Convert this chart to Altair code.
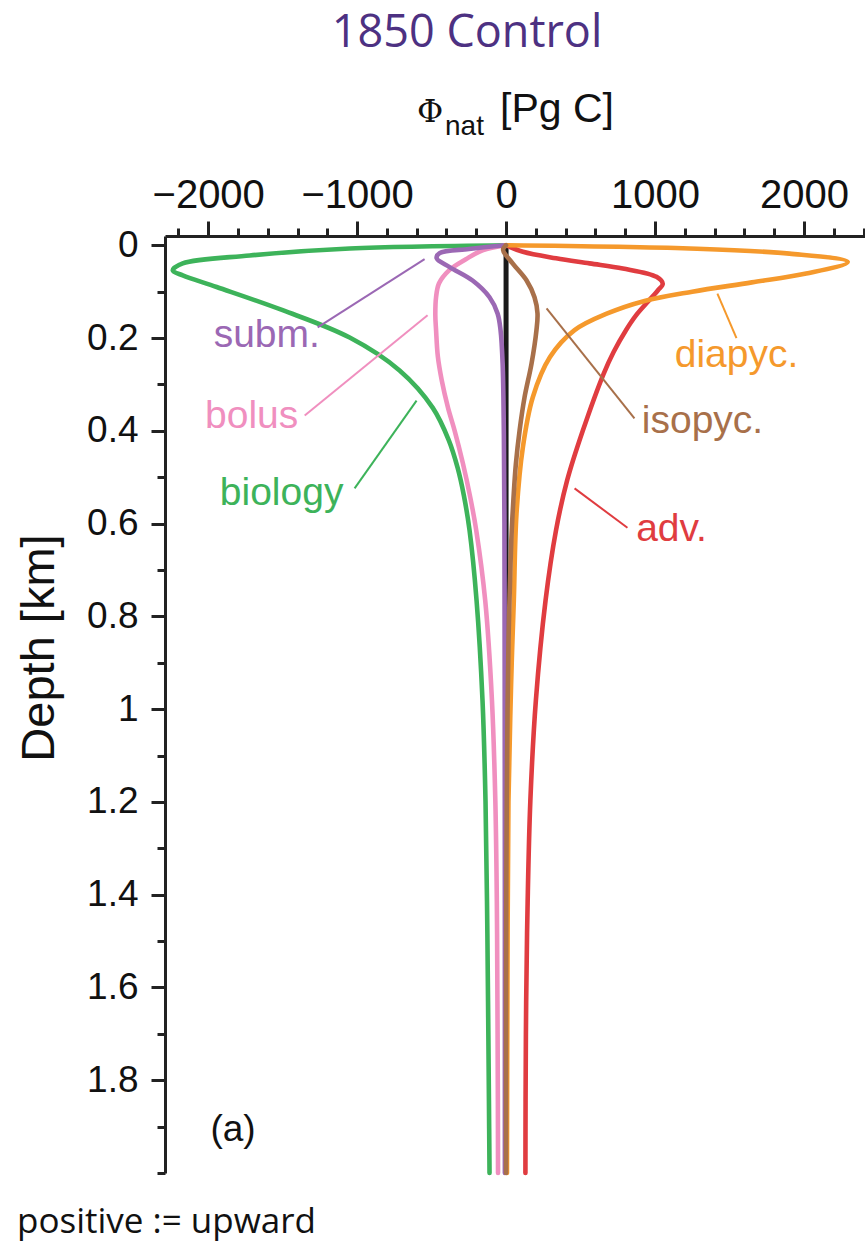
import altair as alt
import pandas as pd

# ---------------- data ----------------
series_names = ["biology", "bolus", "subm.", "adv.", "diapyc.", "isopyc."]
series_colors = ["#3db35a", "#f08fbf", "#9b68b4", "#e03c40", "#f5992c", "#a8704a"]

biology_depth = [0, 0.007, 0.022, 0.039, 0.054, 0.065, 0.09, 0.14, 0.199, 0.27, 0.35, 0.42,
                 0.48, 0.54, 0.615, 0.766, 0.982, 1.198, 1.414, 1.63, 1.845, 2.0]
biology_value = [0, -1050, -1721, -2171, -2238, -2171, -1943, -1500, -1050, -715, -493, -385,
                 -325, -283, -245, -198, -158, -138, -128, -121, -115, -111]

bolus_depth = [0, 0.011, 0.03, 0.054, 0.082, 0.112, 0.15, 0.183, 0.24, 0.291, 0.35, 0.4,
               0.47, 0.544, 0.615, 0.766, 0.98, 1.198, 1.414, 1.63, 1.845, 2.0]
bolus_value = [0, -158, -270, -383, -450, -470, -475, -470, -458, -432, -390, -345,
               -290, -240, -200, -140, -95, -72, -62, -58, -55, -54]

subm_depth = [0, 0.008, 0.017, 0.028, 0.047, 0.076, 0.112, 0.147, 0.183, 0.255, 0.4, 0.6,
              1.0, 1.5, 2.0]
subm_value = [0, -250, -446, -466, -379, -225, -111, -57, -37, -23, -15, -11, -9, -8, -8]

adv_depth = [0, 0.014, 0.028, 0.039, 0.05, 0.068, 0.083, 0.097, 0.119, 0.15, 0.183, 0.23,
             0.277, 0.4, 0.507, 0.615, 0.766, 0.982, 1.198, 1.414, 1.63, 1.845, 2.0]
adv_value = [0, 113, 336, 560, 784, 1010, 1052, 1020, 960, 875, 805, 722,
             655, 515, 410, 335, 265, 200, 163, 145, 135, 131, 130]

diapyc_depth = [0, 0.007, 0.018, 0.036, 0.061, 0.08, 0.1, 0.12, 0.147, 0.183, 0.241, 0.327,
                0.435, 0.579, 0.766, 0.9, 1.02, 1.2, 1.6, 2.0]
diapyc_value = [0, 1232, 1903, 2294, 2015, 1650, 1250, 930, 680, 460, 295, 180,
                113, 70, 52, 38, 28, 16, 9, 6]

isopyc_depth = [0, 0.01, 0.039, 0.076, 0.112, 0.147, 0.183, 0.255, 0.328, 0.399, 0.471, 0.544,
                0.615, 0.686, 0.83, 1.0, 1.3, 1.6, 2.0]
isopyc_value = [0, -20, 44, 138, 191, 211, 204, 171, 124, 91, 66, 50,
                38, 30, 18, 10, 3, 0, 0]

zero_depth = [0, 2.0]
zero_value = [0, 0]

# annotation labels: text, value, depth, leader start/end (value, depth)
label_text = ["subm.", "bolus", "biology", "diapyc.", "isopyc.", "adv."]
label_color = ["#9b68b4", "#f08fbf", "#3db35a", "#f5992c", "#a8704a", "#e03c40"]
label_x = [-1607, -1708, -1507, 1547, 1319, 1111]
label_y = [0.194, 0.367, 0.535, 0.237, 0.378, 0.611]
lead_x1 = [-1265, -1352, -1017, 1547, 862, 815]
lead_y1 = [0.177, 0.367, 0.524, 0.200, 0.373, 0.609]
lead_x2 = [-547, -527, -601, 1419, 272, 460]
lead_y2 = [0.030, 0.151, 0.335, 0.104, 0.136, 0.524]

x_major = [-2000, -1000, 0, 1000, 2000]
x_minor = [-2200, -1800, -1600, -1400, -1200, -800, -600, -400, -200,
           200, 400, 600, 800, 1200, 1400, 1600, 1800, 2200, 2400]
y_major = [0, 0.2, 0.4, 0.6, 0.8, 1.0, 1.2, 1.4, 1.6, 1.8]
y_minor = [0.1, 0.3, 0.5, 0.7, 0.9, 1.1, 1.3, 1.5, 1.7, 1.9, 2.0]

# ---------------- tables ----------------
series_data = {
    "biology": (biology_depth, biology_value),
    "bolus": (bolus_depth, bolus_value),
    "subm.": (subm_depth, subm_value),
    "adv.": (adv_depth, adv_value),
    "diapyc.": (diapyc_depth, diapyc_value),
    "isopyc.": (isopyc_depth, isopyc_value),
}
rows = []
for name, (ds, vs) in series_data.items():
    for i, (d, v) in enumerate(zip(ds, vs)):
        rows.append({"series": name, "idx": i, "depth": d, "value": v})
df = pd.DataFrame(rows)
zero_df = pd.DataFrame({"depth": zero_depth, "value": zero_value})
lab_df = pd.DataFrame({"t": label_text, "c": label_color, "x": label_x, "y": label_y,
                       "x1": lead_x1, "y1": lead_y1, "x2": lead_x2, "y2": lead_y2})

XS = alt.Scale(domain=[-2290, 2410], nice=False, zero=False)
YS = alt.Scale(domain=[-0.02, 2.0], nice=False, zero=False, reverse=True)

SANS = "Liberation Sans"
AX = "#222222"
ax_x = alt.Axis(orient="top", values=x_major, title=None, grid=False, tickSize=15, tickWidth=3,
                tickColor=AX, domainWidth=3, domainColor=AX, labelFont=SANS,
                labelFontSize=40, labelColor="#111111", labelPadding=6, labelFlush=False,
                labelOverlap=False, format="d")
ax_xm = alt.Axis(orient="top", values=x_minor, title=None, grid=False, labels=False,
                 domain=False, tickSize=8, tickWidth=3, tickColor=AX)
ax_y = alt.Axis(orient="left", values=y_major, title=None, grid=False, tickSize=14, tickWidth=3,
                tickColor=AX, domainWidth=3, domainColor=AX, labelFont=SANS,
                labelFontSize=37, labelColor="#111111", labelPadding=13, labelFlush=False,
                labelOverlap=False, format="~g")
ax_ym = alt.Axis(orient="left", values=y_minor, title=None, grid=False, labels=False,
                 domain=False, tickSize=8, tickWidth=3, tickColor=AX)

layers = []
# black zero line (carries the minor-tick axes)
layers.append(
    alt.Chart(zero_df).mark_line(color="#1a1a1a", strokeWidth=5).encode(
        x=alt.X("value:Q", scale=XS, axis=ax_xm),
        y=alt.Y("depth:Q", scale=YS, axis=ax_ym),
        order=alt.Order("depth:Q"),
    )
)
for k, (name, col) in enumerate(zip(series_names, series_colors)):
    layers.append(
        alt.Chart(df).transform_filter(alt.datum.series == name).mark_line(
            color=col, strokeWidth=4.6, interpolate="catmull-rom", strokeCap="round",
            strokeJoin="round").encode(
            x=alt.X("value:Q", scale=XS, axis=ax_x if k == 0 else None),
            y=alt.Y("depth:Q", scale=YS, axis=ax_y if k == 0 else None),
            order=alt.Order("idx:Q"),
        )
    )

leaders = alt.Chart(lab_df).mark_rule(strokeWidth=2).encode(
    x=alt.X("x1:Q", scale=XS, axis=None), y=alt.Y("y1:Q", scale=YS, axis=None),
    x2="x2:Q", y2="y2:Q", color=alt.Color("c:N", scale=None))
labels = alt.Chart(lab_df).mark_text(font=SANS, fontSize=39, align="center",
                                     baseline="middle").encode(
    x=alt.X("x:Q", scale=XS, axis=None), y=alt.Y("y:Q", scale=YS, axis=None),
    text="t:N", color=alt.Color("c:N", scale=None))
layers += [leaders, labels]

panel = alt.Chart(pd.DataFrame({"t": ["(a)"], "x": [-1833], "y": [1.908]})).mark_text(
    font=SANS, fontSize=37, align="center", baseline="middle", color="#111111").encode(
    x=alt.X("x:Q", scale=XS, axis=None), y=alt.Y("y:Q", scale=YS, axis=None), text="t:N")
layers.append(panel)


def ptext(txt, x, y, font, size, color="#111111", align="left", baseline="alphabetic", angle=0):
    return alt.Chart(pd.DataFrame({"a": [0]})).mark_text(
        text=txt, font=font, fontSize=size, color=color, align=align, baseline=baseline,
        angle=angle).encode(x=alt.value(x), y=alt.value(y))


layers += [
    ptext("1850 Control", 302, -189, "Open Sans", 45, color="#4d3182", align="center"),
    ptext("\u03a6", 252, -114, "DejaVu Serif", 32),
    ptext("nat", 280, -101, SANS, 28),
    ptext("[Pg C]", 335, -114, SANS, 41),
    ptext("Depth [km]", -125, 412, SANS, 47, align="center", baseline="middle", angle=270),
    ptext("positive := upward", -148, 997, "Open Sans", 35),
]

chart = alt.layer(*layers).resolve_axis(x="independent", y="independent").properties(
    width=700, height=937,
    autosize=alt.AutoSizeParams(type="none"),
    padding={"left": 165, "top": 236, "right": 0, "bottom": 72},
    background="white",
).configure_view(stroke=None)

chart.save("out.html", embed_options={"renderer": "svg", "actions": False})
